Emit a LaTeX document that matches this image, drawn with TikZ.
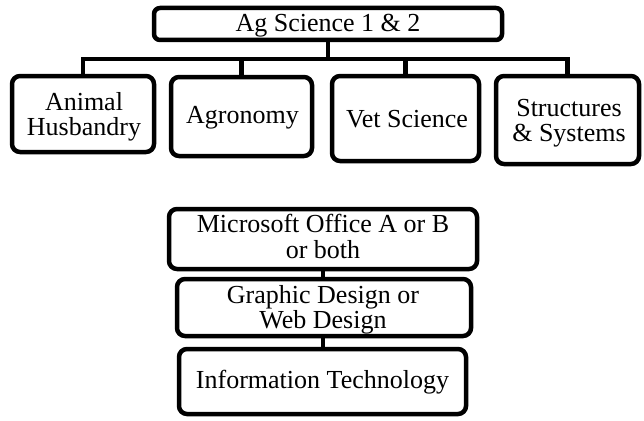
\documentclass[tikz,border=0pt]{standalone}
\usepackage{fontspec}
\setmainfont{Liberation Serif}
\newcommand{\twolines}[3]{\fontsize{26}{#1}\selectfont\begin{tabular}[t]{@{}c@{}}#2\\#3\end{tabular}}
\begin{document}
\begin{tikzpicture}[x=1pt,y=-1pt,
  box/.style={draw=black, line width=4.5pt, rounded corners=8pt, fill=white, inner sep=0pt},
  txt/.style={anchor=base, inner sep=0pt, font=\fontsize{26}{26}\selectfont},
  link/.style={draw=black, line width=4.5pt, line join=miter}]
\useasboundingbox (0,0) rectangle (644,420);
% boxes
\node[box, rounded corners=6pt, minimum width=348pt, minimum height=32pt] (top) at (328,24) {};
\node[box, minimum width=142pt, minimum height=76pt] (an) at (83,114) {};
\node[box, minimum width=141pt, minimum height=79pt] (ag) at (241.5,116.5) {};
\node[box, minimum width=147pt, minimum height=85pt] (vt) at (405.5,118.5) {};
\node[box, minimum width=143pt, minimum height=88pt] (st) at (567.5,120) {};
\node[box, minimum width=308pt, minimum height=60pt] (ms) at (323,239) {};
\node[box, minimum width=294pt, minimum height=57pt] (gd) at (324,307.5) {};
\node[box, minimum width=287pt, minimum height=65pt] (it) at (322.5,381.5) {};
% connectors
\coordinate (bar) at (0,59);
\draw[link] (an.north) |- (bar -| st.north) -- (st.north);
\draw[link] (ag.north) -- (ag.north |- bar);
\draw[link] (vt.north) -- (vt.north |- bar);
\draw[link] (top.south) -- (top.south |- bar);
\draw[link] (ms.south) -- (ms.south |- gd.north);
\draw[link] (gd.south -| ms.south) -- (ms.south |- it.north);
% texts
\node[txt] (t0) at (328,32) {Ag Science 1 \& 2};
\node[txt] (t1) at (84,110) {\twolines{24}{Animal}{Husbandry}};
\node[txt] (t2) at (242.5,123) {Agronomy};
\node[txt] (t3) at (407,127) {Vet Science};
\node[txt] (t4) at (569,116) {\twolines{25}{Structures}{\& Systems}};
\node[txt] (t5) at (323,232) {\twolines{26}{Microsoft Office A or B}{or both}};
\node[txt] (t6) at (323,303) {\twolines{25}{Graphic Design or}{Web Design}};
\node[txt] (t7) at (322.5,388) {Information Technology};
\end{tikzpicture}
\end{document}
